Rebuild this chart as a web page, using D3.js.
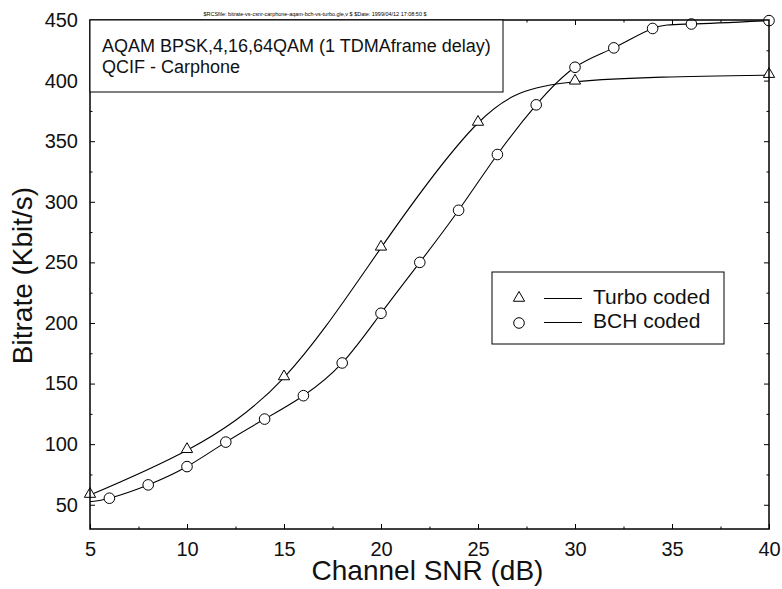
<!DOCTYPE html>
<html>
<head>
<meta charset="utf-8">
<script src="https://cdn.jsdelivr.net/npm/d3@7/dist/d3.min.js"></script>
<style>
  html, body { margin: 0; padding: 0; background: #fff; }
  svg { display: block; font-family: "Liberation Sans", Arial, Helvetica, sans-serif; }
</style>
</head>
<body>
<svg id="chart" width="782" height="589"></svg>
<script>
// ---- data ----
const turboSNR  = [5, 10, 15, 20, 25, 30, 40];
const turboRate = [58, 95, 155, 262, 365, 399, 404.5];

// first BCH entry (5 dB) is the line start only; markers start at 6 dB
const bchSNR  = [5, 6, 8, 10, 12, 14, 16, 18, 20, 22, 24, 26, 28, 30, 32, 34, 36, 40];
const bchRate = [52.5, 55.4, 66.4, 81.5, 101.7, 120.7, 140, 167, 208, 250, 293, 339, 380, 411, 427, 443, 446.7, 449.5];
const bchMarked = [false, true, true, true, true, true, true, true, true, true, true, true, true, true, true, true, true, true];

const xTicks = [5, 10, 15, 20, 25, 30, 35, 40];
const xMinorTicks = [7.5, 12.5, 17.5, 22.5, 27.5, 32.5, 37.5];
const yTicks = [50, 100, 150, 200, 250, 300, 350, 400, 450];
const yMinorTicks = [75, 125, 175, 225, 275, 325, 375, 425];

const titleLines = ["AQAM BPSK,4,16,64QAM (1 TDMAframe delay)", "QCIF - Carphone"];
const legendLabels = ["Turbo coded", "BCH coded"];
const headerText = "$RCSfile: bitrate-vs-csnr-carphone-aqam-bch-vs-turbo.gle,v $ $Date: 1999/04/12 17:08:50 $";

// ---- layout ----
const L = 90, R = 769, T = 20, B = 529;
const svg = d3.select("#chart");

const x = d3.scaleLinear().domain([5, 40]).range([L, R]);
const y = d3.scaleLinear().domain([30, 450]).range([B, T]);

// header
svg.append("text")
  .attr("x", 315).attr("y", 15.5)
  .attr("text-anchor", "middle")
  .attr("font-size", 6)
  .attr("textLength", 223).attr("lengthAdjust", "spacingAndGlyphs")
  .text(headerText);

// axes (ticks inward on all four sides)
function styleAxis(g) {
  g.select(".domain").remove();
  g.selectAll(".tick line").attr("stroke", "#000").attr("stroke-width", 1);
  g.selectAll(".tick text").attr("fill", "#111");
}
const maj = 5, mnr = 2.5;

svg.append("g").attr("transform", `translate(0,${B})`)
  .call(d3.axisBottom(x).tickValues(xTicks).tickSize(-maj).tickPadding(13).tickFormat(d3.format("d")))
  .call(styleAxis).attr("font-size", 20).attr("font-family", null);
svg.append("g").attr("transform", `translate(0,${B})`)
  .call(d3.axisBottom(x).tickValues(xMinorTicks).tickSize(-mnr).tickFormat(""))
  .call(styleAxis);
svg.append("g").attr("transform", `translate(0,${T})`)
  .call(d3.axisTop(x).tickValues(xTicks).tickSize(-maj).tickFormat(""))
  .call(styleAxis);
svg.append("g").attr("transform", `translate(0,${T})`)
  .call(d3.axisTop(x).tickValues(xMinorTicks).tickSize(-mnr).tickFormat(""))
  .call(styleAxis);

svg.append("g").attr("transform", `translate(${L},0)`)
  .call(d3.axisLeft(y).tickValues(yTicks).tickSize(-maj).tickPadding(12).tickFormat(d3.format("d")))
  .call(styleAxis).attr("font-size", 20).attr("font-family", null);
svg.append("g").attr("transform", `translate(${L},0)`)
  .call(d3.axisLeft(y).tickValues(yMinorTicks).tickSize(-mnr).tickFormat(""))
  .call(styleAxis);
svg.append("g").attr("transform", `translate(${R},0)`)
  .call(d3.axisRight(y).tickValues(yTicks).tickSize(-maj).tickFormat(""))
  .call(styleAxis);
svg.append("g").attr("transform", `translate(${R},0)`)
  .call(d3.axisRight(y).tickValues(yMinorTicks).tickSize(-mnr).tickFormat(""))
  .call(styleAxis);

// axis titles
svg.append("text")
  .attr("x", (L + R) / 2 - 2).attr("y", 580)
  .attr("text-anchor", "middle").attr("font-size", 28).attr("fill", "#111")
  .text("Channel SNR (dB)");
svg.append("text")
  .attr("transform", `translate(32,${(T + B) / 2 + 1}) rotate(-90)`)
  .attr("text-anchor", "middle").attr("font-size", 28).attr("fill", "#111")
  .text("Bitrate (Kbit/s)");

// curves
const turboData = turboSNR.map((s, i) => ({ s, v: turboRate[i] }));
const bchData = bchSNR.map((s, i) => ({ s, v: bchRate[i], m: bchMarked[i] }));
const line = d3.line().x(d => x(d.s)).y(d => y(d.v)).curve(d3.curveNatural);

svg.append("path").datum(turboData).attr("d", line)
  .attr("fill", "none").attr("stroke", "#000").attr("stroke-width", 1.1);
svg.append("path").datum(bchData).attr("d", line)
  .attr("fill", "none").attr("stroke", "#000").attr("stroke-width", 1.1);

// markers
const tri = d3.symbol().type(d3.symbolTriangle).size(55);
svg.append("g").selectAll("path").data(turboData).join("path")
  .attr("d", tri)
  .attr("transform", d => `translate(${x(d.s)},${y(d.v) - 1})`)
  .attr("fill", "#fff").attr("stroke", "#000").attr("stroke-width", 1);
svg.append("g").selectAll("circle").data(bchData.filter(d => d.m)).join("circle")
  .attr("cx", d => x(d.s)).attr("cy", d => y(d.v)).attr("r", 5.3)
  .attr("fill", "#fff").attr("stroke", "#000").attr("stroke-width", 1);

// frame
svg.append("rect").attr("x", L).attr("y", T).attr("width", R - L).attr("height", B - T)
  .attr("fill", "none").attr("stroke", "#000").attr("stroke-width", 1.5);

// title box
svg.append("rect").attr("x", L).attr("y", T).attr("width", 503 - L).attr("height", 92 - T)
  .attr("fill", "#fff").attr("stroke", "#000").attr("stroke-width", 1);
titleLines.forEach((t, i) => {
  svg.append("text").attr("x", 102).attr("y", 52 + i * 21)
    .attr("font-size", 18).attr("fill", "#111").text(t);
});

// legend
svg.append("rect").attr("x", 492).attr("y", 272).attr("width", 232).attr("height", 72)
  .attr("fill", "#fff").attr("stroke", "#000").attr("stroke-width", 1);
const legY = [298, 322];
svg.append("path").attr("d", tri).attr("transform", `translate(519,${legY[0]})`)
  .attr("fill", "#fff").attr("stroke", "#000");
svg.append("circle").attr("cx", 519).attr("cy", legY[1] + 1).attr("r", 5.3)
  .attr("fill", "#fff").attr("stroke", "#000");
legendLabels.forEach((t, i) => {
  svg.append("line").attr("x1", 544).attr("x2", 582).attr("y1", legY[i] + 0.5).attr("y2", legY[i] + 0.5)
    .attr("stroke", "#000").attr("stroke-width", 1);
  svg.append("text").attr("x", 593).attr("y", legY[i] + 6)
    .attr("font-size", 21).attr("fill", "#111").text(t);
});
</script>
</body>
</html>
